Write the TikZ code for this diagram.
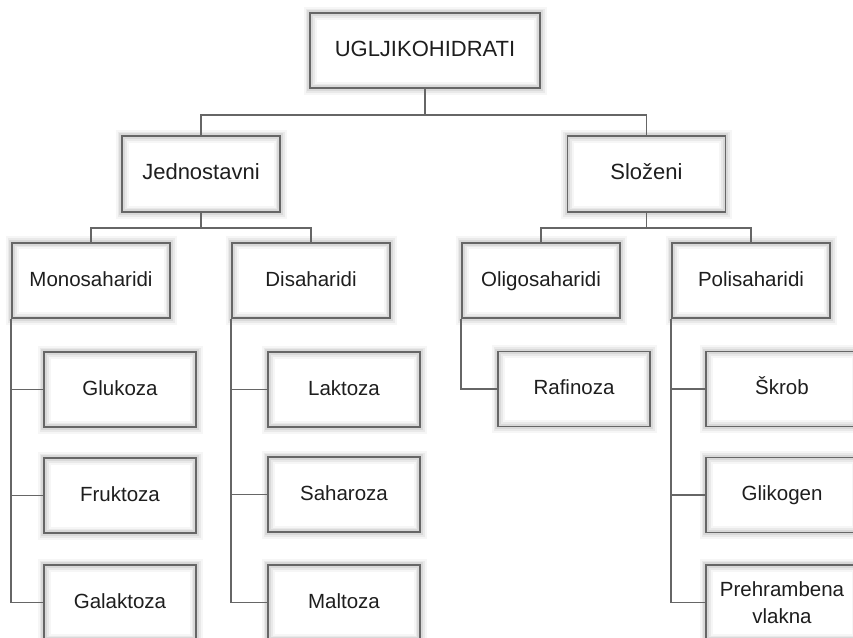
\documentclass[tikz,border=0pt]{standalone}
\usepackage{fontspec}
\setmainfont{Liberation Sans}
\definecolor{boxgray}{HTML}{666666}
\definecolor{textc}{HTML}{1E1E1E}
\definecolor{glowc}{HTML}{808080}
\tikzset{
  box/.style={draw=boxgray, line width=1.7pt, minimum width=152, minimum height=75,
    inner sep=0pt, align=center, text=textc, font=\fontsize{20.5}{27}\selectfont,
    text height=15pt, text depth=4pt,
    preaction={fill=white},
    preaction={draw=glowc, line width=13pt, draw opacity=0.07},
    preaction={draw=glowc, line width=9pt, draw opacity=0.10},
    preaction={draw=glowc, line width=5.5pt, draw opacity=0.15}},
  midbox/.style={box, minimum width=158, minimum height=75.5},
  bigbox/.style={box, minimum width=158, minimum height=76, font=\fontsize{22}{27}\selectfont},
  topbox/.style={box, minimum width=230, minimum height=75, font=\fontsize{22}{27}\selectfont},
  twoline/.style={box, text height=, text depth=},
  conn/.style={draw=boxgray, line width=1.7pt}
}
\begin{document}
\begin{tikzpicture}[x=1pt,y=-1pt]
\useasboundingbox (0,0) rectangle (853,637);
\clip (0,0) rectangle (853,637);
\fill[white] (0,0) rectangle (853,637);
\coordinate (busL) at (0,115);
\coordinate (bus2) at (0,228);
% nodes
\node[topbox] (top) at (425,50.5) {UGLJIKOHIDRATI};
\node[bigbox] (jed) at (201,174) {Jednostavni};
\node[bigbox] (slo) at (646.5,174) {Složeni};
\node[midbox] (mono) at (91,280.5) {Monosaharidi};
\node[midbox] (dis) at (311,280.5) {Disaharidi};
\node[midbox] (oli) at (541,280.5) {Oligosaharidi};
\node[midbox] (pol) at (751,280.5) {Polisaharidi};
\node[box] (glu) at (120,389.5) {Glukoza};
\node[box] (fru) at (120,495.5) {Fruktoza};
\node[box] (gal) at (120,602.5) {Galaktoza};
\node[box] (lak) at (344,389.5) {Laktoza};
\node[box] (sah) at (344,494.5) {Saharoza};
\node[box] (mal) at (344,602.5) {Maltoza};
\node[box] (raf) at (574,389) {Rafinoza};
\node[box] (skr) at (782,389) {Škrob};
\node[box] (gli) at (782,495) {Glikogen};
\node[twoline] (pre) at (782,602.5) {Prehrambena\\vlakna};
% tree connectors
\draw[conn] (top.south) -- (top.south |- busL) -| (jed.north);
\draw[conn] (top.south |- busL) -| (slo.north);
\draw[conn] (jed.south) -- (jed.south |- bus2) -| (mono.north);
\draw[conn] (jed.south |- bus2) -| (dis.north);
\draw[conn] (slo.south) -- (slo.south |- bus2) -| (oli.north);
\draw[conn] (slo.south |- bus2) -| (pol.north);
% trunks
\draw[conn] (mono.south west) |- (glu.west);
\draw[conn] (mono.south west) |- (fru.west);
\draw[conn] (mono.south west) |- (gal.west);
\draw[conn] (dis.south west) |- (lak.west);
\draw[conn] (dis.south west) |- (sah.west);
\draw[conn] (dis.south west) |- (mal.west);
\draw[conn] (oli.south west) |- (raf.west);
\draw[conn] (pol.south west) |- (skr.west);
\draw[conn] (pol.south west) |- (gli.west);
\draw[conn] (pol.south west) |- (pre.west);
\end{tikzpicture}
\end{document}
